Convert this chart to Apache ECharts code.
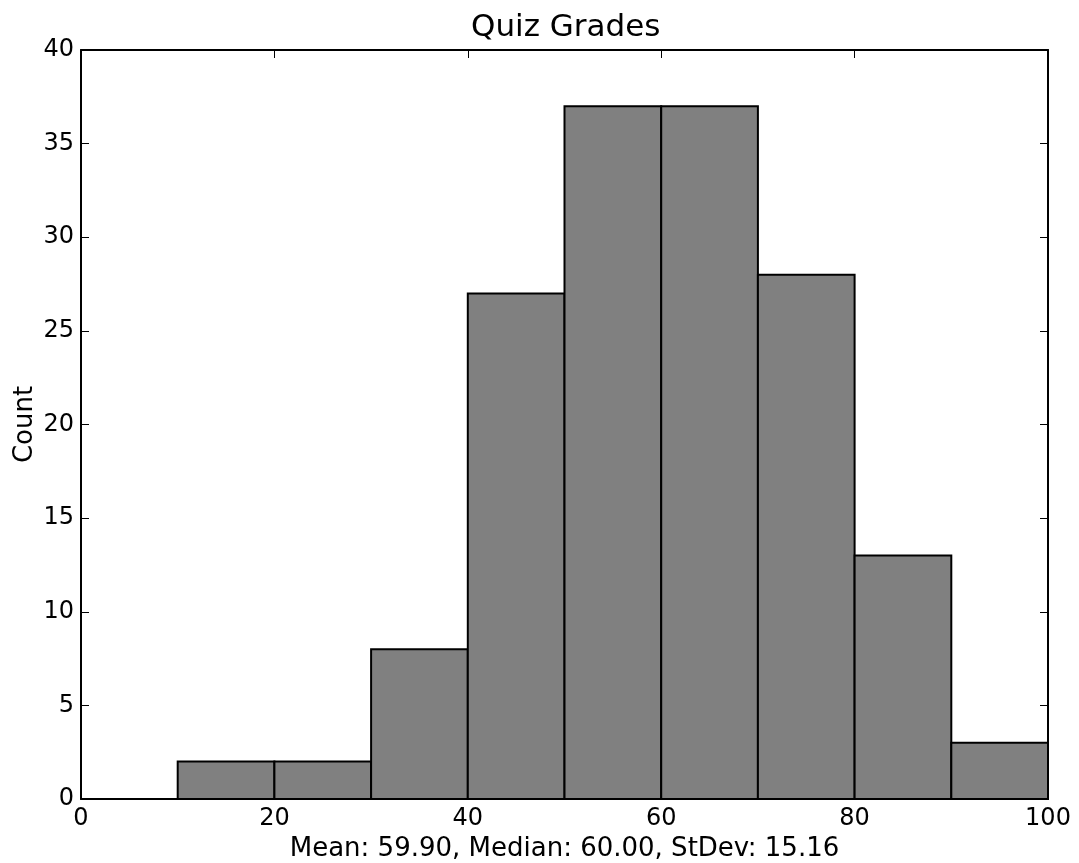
<!DOCTYPE html>
<html>
<head>
<meta charset="utf-8">
<script src="https://cdn.jsdelivr.net/npm/echarts@6/dist/echarts.min.js"></script>
<style>html,body{margin:0;padding:0;background:#fff;}#c{width:1079px;height:863px;}</style>
</head>
<body>
<div id="c"></div>
<script>
const binStarts = [10, 20, 30, 40, 50, 60, 70, 80, 90];
const binEnds   = [20, 30, 40, 50, 60, 70, 80, 90, 100];
const counts    = [2, 2, 8, 27, 37, 37, 28, 13, 3];
const titleText = 'Quiz Grades';
const xLabel = 'Mean: 59.90, Median: 60.00, StDev: 15.16';
const yLabel = 'Count';

const data = binStarts.map((s, i) => [s, binEnds[i], counts[i]]);
const FONT = 'DejaVu Sans';
const chart = echarts.init(document.getElementById('c'), null, {renderer: 'canvas'});

const tickStyle = {show: true, inside: true, length: 8, lineStyle: {color: '#000', width: 1}};
const lineStyle = {show: true, onZero: false, lineStyle: {color: '#000', width: 2}};

chart.setOption({
  animation: false,
  backgroundColor: '#fff',
  title: {
    text: titleText, left: 466, top: 7,
    textStyle: {fontFamily: FONT, fontSize: 31, fontWeight: 'normal', color: '#000'}
  },
  grid: {left: 81, right: 31, top: 50, bottom: 64, containLabel: false, outerBoundsMode: 'none'},
  xAxis: [{
    type: 'value', min: 0, max: 100, interval: 20, position: 'bottom',
    axisLine: lineStyle, axisTick: tickStyle, splitLine: {show: false},
    axisLabel: {fontFamily: FONT, fontSize: 24, color: '#000', margin: 8},
    name: xLabel, nameLocation: 'middle', nameGap: 37, nameMoveOverlap: false,
    nameTextStyle: {fontFamily: FONT, fontSize: 26, color: '#000'}
  }, {
    type: 'value', min: 0, max: 100, interval: 20, position: 'top',
    axisLine: lineStyle, axisTick: tickStyle, splitLine: {show: false},
    axisLabel: {show: false}
  }],
  yAxis: [{
    type: 'value', min: 0, max: 40, interval: 5, position: 'left',
    axisLine: lineStyle, axisTick: tickStyle, splitLine: {show: false},
    axisLabel: {fontFamily: FONT, fontSize: 24, color: '#000', margin: 7},
    name: yLabel, nameLocation: 'middle', nameGap: 43, nameRotate: 90, nameMoveOverlap: false,
    nameTextStyle: {fontFamily: FONT, fontSize: 26, color: '#000'}
  }, {
    type: 'value', min: 0, max: 40, interval: 5, position: 'right',
    axisLine: lineStyle, axisTick: tickStyle, splitLine: {show: false},
    axisLabel: {show: false}
  }],
  series: [{
    type: 'custom',
    xAxisIndex: 0, yAxisIndex: 0,
    data: data,
    encode: {x: [0, 1], y: 2},
    renderItem: function (params, api) {
      const p0 = api.coord([api.value(0), api.value(2)]);
      const p1 = api.coord([api.value(1), 0]);
      return {
        type: 'rect',
        shape: {x: p0[0], y: p0[1], width: p1[0] - p0[0], height: p1[1] - p0[1]},
        style: {fill: '#808080', stroke: '#000', lineWidth: 2}
      };
    }
  }]
});
</script>
</body>
</html>
